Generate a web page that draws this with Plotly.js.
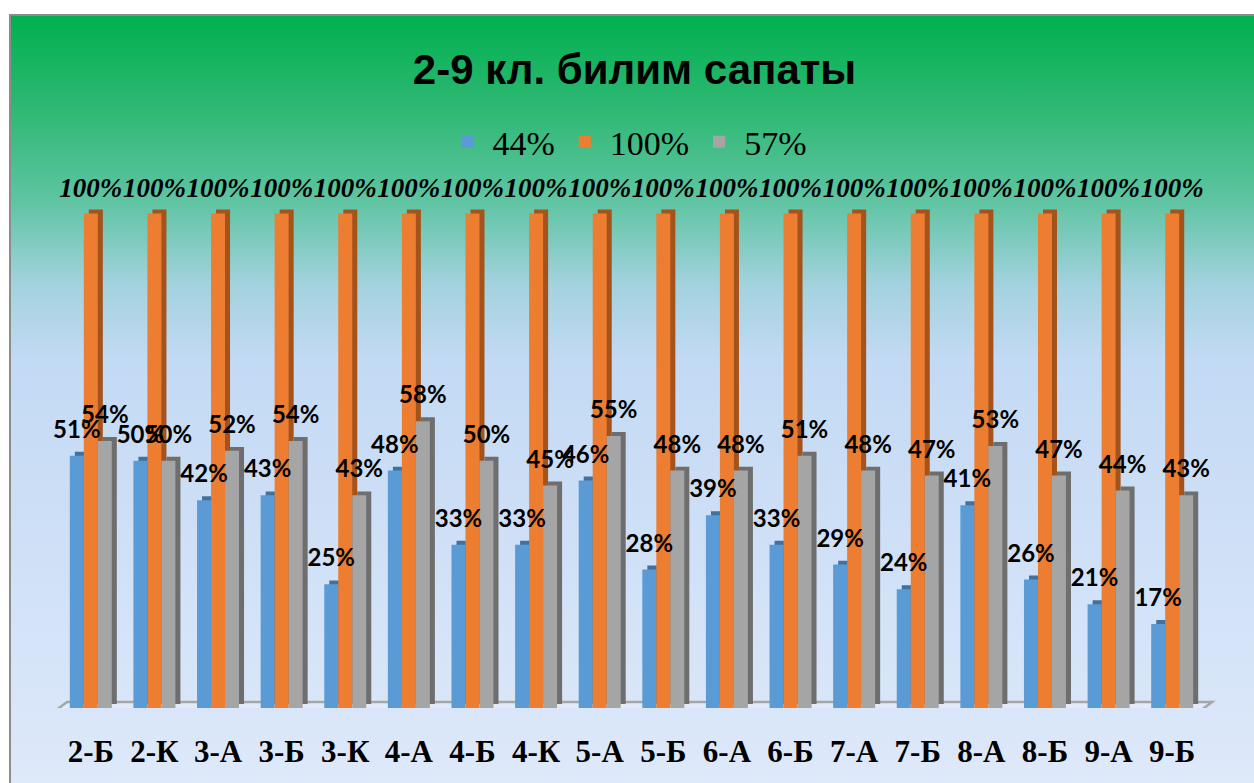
<!DOCTYPE html>
<html>
<head>
<meta charset="utf-8">
<script src="https://cdn.plot.ly/plotly-3.0.1.min.js"></script>
<style>
  html, body { margin: 0; padding: 0; background: #ffffff; }
  #wrap { position: relative; width: 1254px; height: 783px; overflow: hidden; background: #ffffff; }
  #frame {
    position: absolute; left: 9px; top: 14px; right: 0; bottom: 0;
    border-left: 2px solid #8c8c8c; border-top: 2px solid #8c8c8c;
    background: linear-gradient(to bottom, #00B050 0%, #2EB873 12%, #5EC4A2 24%, #A3D2DE 35%, #C3DAF4 45%, #C8DCF5 55%, #DEE9FA 100%);
  }
  #chart { position: absolute; left: 0; top: 0; width: 1254px; height: 783px; }
</style>
</head>
<body>
<div id="wrap">
  <div id="frame"></div>
  <div id="chart"></div>
</div>
<script>
// ---- data ----
const categories = ['2-Б','2-К','3-А','3-Б','3-К','4-А','4-Б','4-К','5-А','5-Б','6-А','6-Б','7-А','7-Б','8-А','8-Б','9-А','9-Б'];
const seriesNames = ['44%', '100%', '57%'];
const blueValues   = [0.51,0.50,0.42,0.43,0.25,0.48,0.33,0.33,0.46,0.28,0.39,0.33,0.29,0.24,0.41,0.26,0.21,0.17];
const orangeValues = [1.00,1.00,1.00,1.00,1.00,1.00,1.00,1.00,1.00,1.00,1.00,1.00,1.00,1.00,1.00,1.00,1.00,1.00];
const grayValues   = [0.54,0.50,0.52,0.54,0.43,0.58,0.50,0.45,0.55,0.48,0.48,0.51,0.48,0.47,0.53,0.47,0.44,0.43];
const chartTitle = '2-9 кл. билим сапаты';

// ---- styling ----
const seriesValues = [blueValues, orangeValues, grayValues];
const frontColors = ['#5B9BD5', '#ED7D31', '#A5A5A5'];
const sideColors  = ['#41719C', '#A4531C', '#6E6E6E'];
const barWidth = 0.22;
const offsets = [-0.33, -0.11, 0.11];
const depthX = 0.079;   // 3D depth shift (category units)
const depthY = 0.008;   // 3D depth shift (value units)
const labelLifts = [0.02, 0.016, 0.02];
const labelFonts = [
  {family: 'Lato, "Open Sans", sans-serif', size: 24, color: '#000000', weight: 700},
  {family: '"Liberation Serif", "Times New Roman", serif', size: 27, color: '#000000', weight: 700, style: 'italic'},
  {family: 'Lato, "Open Sans", sans-serif', size: 24, color: '#000000', weight: 700}
];

const traces = [];
// side / depth faces
seriesValues.forEach((vals, i) => {
  traces.push({
    type: 'bar', x: categories, y: vals, base: depthY,
    width: barWidth, offset: offsets[i] + depthX,
    marker: {color: sideColors[i], line: {width: 0}},
    showlegend: false, hoverinfo: 'skip'
  });
});
// front faces
seriesValues.forEach((vals, i) => {
  traces.push({
    type: 'bar', name: seriesNames[i], x: categories, y: vals,
    width: barWidth, offset: offsets[i],
    marker: {color: frontColors[i], line: {width: 0}},
    hovertemplate: '%{x}: %{y:.0%}<extra>' + seriesNames[i] + '</extra>'
  });
});
// data labels
seriesValues.forEach((vals, i) => {
  traces.push({
    type: 'bar', x: categories, y: vals, base: labelLifts[i],
    width: barWidth, offset: offsets[i],
    marker: {color: 'rgba(0,0,0,0)', line: {width: 0}},
    texttemplate: '%{y:.0%}', textposition: 'outside', constraintext: 'none',
    cliponaxis: false, textfont: labelFonts[i],
    showlegend: false, hoverinfo: 'skip'
  });
});

const layout = {
  width: 1254, height: 783,
  paper_bgcolor: 'rgba(0,0,0,0)', plot_bgcolor: 'rgba(0,0,0,0)',
  margin: {l: 59, r: 50, t: 163.5, b: 75, autoexpand: false},
  barmode: 'overlay',
  title: {
    text: chartTitle,
    font: {family: '"Liberation Sans", Arial, sans-serif', size: 42, color: '#000000', weight: 700},
    x: 0.506, xanchor: 'center', xref: 'container',
    y: 0.912, yanchor: 'middle', yref: 'container'
  },
  legend: {
    orientation: 'h', x: 0.5, xanchor: 'center', xref: 'container',
    y: 0.8186, yanchor: 'middle', yref: 'container',
    itemwidth: 40,
    font: {family: '"Liberation Serif", "Times New Roman", serif', size: 34, color: '#000000'},
    bgcolor: 'rgba(0,0,0,0)', traceorder: 'normal'
  },
  xaxis: {
    type: 'category', showgrid: false, zeroline: false, showline: false, ticks: '',
    automargin: false, ticklabelstandoff: 22,
    tickfont: {family: '"Liberation Serif", "Times New Roman", serif', size: 31, color: '#000000', weight: 700},
    fixedrange: true
  },
  yaxis: {range: [0, 1.1], visible: false, automargin: false, showgrid: false, zeroline: false, fixedrange: true},
  shapes: [{
    type: 'path', xref: 'paper', yref: 'y', layer: 'below',
    path: 'M -0.0035 -0.006 L 0.007 0.012 L 1.007 0.012 L 0.9965 -0.006 Z',
    fillcolor: '#E2EBF7', line: {color: '#A6A6A6', width: 2.5}
  }]
};

Plotly.newPlot('chart', traces, layout, {displayModeBar: false});
</script>
</body>
</html>
